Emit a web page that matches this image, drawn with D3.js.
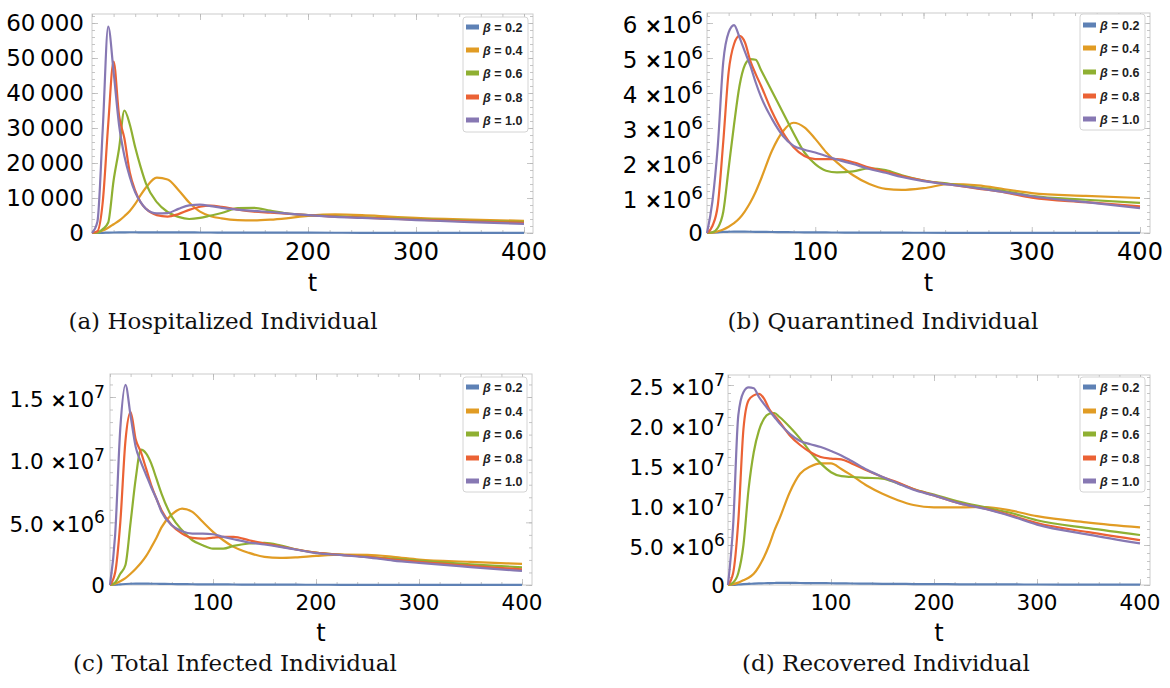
<!DOCTYPE html>
<html>
<head>
<meta charset="utf-8">
<script src="https://cdn.jsdelivr.net/npm/d3@7"></script>
<style>
  body { margin: 0; background: #fff; }
  svg { display: block; }
  .lbl { font-family: "DejaVu Sans", sans-serif; fill: #000; }
  .cap { font-family: "DejaVu Serif", serif; fill: #111; }
  .leg { font-family: "Liberation Sans", Arial, sans-serif; font-weight: bold; fill: #222; }
</style>
</head>
<body>
<div id="chart"></div>
<script>
// time points (days) shared by every series
var tDays = [0, 5, 10, 15, 20, 25, 30, 35, 40, 45, 50, 60, 70, 80, 90, 100, 110, 120, 135, 150, 165, 180, 200, 225, 250, 275, 300, 350, 400];

var betaLabels = ["0.2", "0.4", "0.6", "0.8", "1.0"];
var colors = ["#5E81B5", "#E19C24", "#8FB032", "#EB6235", "#8778B3"];

// (a) hospitalized individuals, one row per beta
var hospitalized = [
    [0, 20, 60, 110, 150, 180, 200, 210, 210, 205, 200, 190, 180, 170, 160, 150, 140, 130, 120, 110, 100, 90, 80, 70, 60, 55, 50, 40, 30],
    [0, 200, 700, 1500, 2500, 3500, 4800, 6300, 8300, 10800, 13000, 15800, 15300, 12300, 8700, 6100, 4800, 4200, 3700, 3600, 3800, 4200, 4900, 5300, 5100, 4700, 4300, 3800, 3500],
    [0, 100, 1100, 3000, 15000, 24000, 35000, 31000, 24500, 18900, 14100, 8800, 6000, 4600, 4000, 4300, 5000, 5700, 7100, 7200, 6400, 5600, 5100, 4800, 4500, 4200, 4000, 3500, 3200],
    [0, 500, 9000, 31000, 49000, 33700, 27000, 17300, 12100, 8800, 6900, 5100, 4700, 5400, 6600, 7500, 7800, 7500, 6700, 6100, 5800, 5500, 5100, 4700, 4400, 4100, 3800, 3300, 2900],
    [0, 3200, 30000, 59000, 46000, 31000, 22000, 16000, 11600, 8800, 6900, 5600, 5700, 6900, 7900, 8100, 7700, 7200, 6700, 6300, 6000, 5600, 5100, 4600, 4300, 4000, 3700, 3100, 2600]
];

// (b) quarantined individuals, millions
var quarantined = [
    [0, 0.01, 0.02, 0.03, 0.035, 0.038, 0.038, 0.037, 0.035, 0.033, 0.031, 0.028, 0.025, 0.022, 0.02, 0.018, 0.016, 0.014, 0.012, 0.01, 0.009, 0.008, 0.007, 0.006, 0.005, 0.004, 0.004, 0.003, 0.002],
    [0, 0.01, 0.05, 0.1, 0.18, 0.28, 0.42, 0.62, 0.87, 1.18, 1.55, 2.35, 2.9, 3.15, 3.02, 2.69, 2.31, 2.02, 1.65, 1.4, 1.26, 1.23, 1.28, 1.4, 1.36, 1.25, 1.14, 1.06, 1.0],
    [0, 0.02, 0.15, 0.6, 1.85, 3.1, 4.2, 4.8, 4.97, 4.95, 4.65, 4.05, 3.45, 2.85, 2.3, 1.97, 1.78, 1.73, 1.76, 1.85, 1.8, 1.65, 1.5, 1.4, 1.3, 1.2, 1.06, 0.95, 0.86],
    [0, 0.2, 0.8, 2.6, 4.6, 5.4, 5.63, 5.45, 4.92, 4.54, 4.2, 3.47, 2.88, 2.45, 2.2, 2.11, 2.11, 2.11, 2.02, 1.87, 1.75, 1.63, 1.5, 1.38, 1.27, 1.16, 1.01, 0.88, 0.76],
    [0, 0.9, 2.5, 4.88, 5.73, 5.94, 5.59, 5.18, 4.78, 4.3, 3.88, 3.26, 2.78, 2.49, 2.38, 2.3, 2.2, 2.1, 1.97, 1.83, 1.72, 1.6, 1.48, 1.38, 1.28, 1.17, 1.05, 0.88, 0.71]
];

// (c) total infected individuals, millions
var infected = [
    [0, 0.02, 0.05, 0.08, 0.1, 0.11, 0.11, 0.11, 0.1, 0.1, 0.09, 0.08, 0.07, 0.06, 0.055, 0.05, 0.045, 0.04, 0.035, 0.03, 0.027, 0.024, 0.02, 0.017, 0.015, 0.012, 0.01, 0.008, 0.006],
    [0, 0.1, 0.3, 0.55, 0.9, 1.3, 1.75, 2.3, 3.0, 3.75, 4.6, 5.63, 6.1, 5.84, 5.04, 4.24, 3.57, 3.04, 2.56, 2.24, 2.16, 2.2, 2.32, 2.42, 2.4, 2.25, 2.03, 1.85, 1.68],
    [0, 0.2, 0.9, 1.6, 5.0, 8.5, 10.8, 10.5, 9.7, 8.5, 7.3, 5.44, 4.37, 3.57, 3.17, 2.9, 2.9, 3.12, 3.31, 3.36, 3.17, 2.85, 2.58, 2.4, 2.25, 2.1, 1.95, 1.65, 1.41],
    [0, 1.0, 5.0, 11.5, 13.8, 11.6, 10.6, 9.3, 7.97, 6.9, 5.97, 4.77, 4.1, 3.76, 3.7, 3.78, 3.84, 3.84, 3.57, 3.31, 3.08, 2.85, 2.58, 2.4, 2.24, 2.03, 1.84, 1.52, 1.25],
    [0, 4.0, 12.5, 15.97, 13.5, 11.0, 9.8, 8.8, 7.8, 6.9, 5.84, 4.77, 4.29, 4.1, 4.1, 4.05, 3.84, 3.65, 3.39, 3.23, 3.04, 2.83, 2.55, 2.38, 2.2, 1.95, 1.76, 1.43, 1.12]
];

// (d) recovered individuals, millions
var recovered = [
    [0, 0.02, 0.06, 0.1, 0.14, 0.17, 0.2, 0.22, 0.24, 0.25, 0.26, 0.26, 0.25, 0.24, 0.23, 0.22, 0.2, 0.19, 0.17, 0.15, 0.14, 0.12, 0.11, 0.09, 0.08, 0.07, 0.06, 0.05, 0.04],
    [0, 0.1, 0.3, 0.6, 0.9, 1.4, 2.3, 3.5, 5.0, 6.8, 8.3, 11.6, 13.9, 14.8, 15.2, 15.2, 14.5, 13.7, 12.4, 11.4, 10.6, 10.0, 9.7, 9.7, 9.75, 9.3, 8.6, 7.8, 7.2],
    [0, 0.3, 1.5, 5.0, 12.0, 16.6, 19.3, 20.8, 21.4, 21.5, 21.0, 19.75, 18.3, 16.6, 15.2, 14.1, 13.6, 13.5, 13.4, 13.3, 12.7, 12.0, 11.3, 10.4, 9.7, 9.0, 8.1, 7.1, 6.25],
    [0, 1.5, 8.0, 19.5, 23.1, 23.7, 23.9, 23.3, 22.0, 21.2, 20.4, 18.7, 17.5, 16.6, 16.0, 15.8, 15.7, 15.2, 14.3, 13.5, 12.8, 12.0, 11.2, 10.2, 9.55, 8.7, 7.75, 6.6, 5.6],
    [0, 7.5, 21.2, 24.1, 24.7, 24.6, 23.5, 22.6, 21.8, 21.0, 20.2, 18.9, 18.0, 17.6, 17.25, 16.75, 16.2, 15.5, 14.4, 13.5, 12.7, 11.9, 11.2, 10.2, 9.5, 8.6, 7.55, 6.3, 5.2]
];

// tick values
var xTicks = [100, 200, 300, 400];
var yTicksHosp = [0, 10000, 20000, 30000, 40000, 50000, 60000];
var yTicksQuar = [0, 1, 2, 3, 4, 5, 6];      // millions
var yTicksInf = [0, 5, 10, 15];               // millions
var yTicksRec = [0, 5, 10, 15, 20, 25];       // millions

var captions = ["(a) Hospitalized Individual", "(b) Quarantined Individual",
                "(c) Total Infected Individual", "(d) Recovered Individual"];

var width = 1170, height = 688;

var svg = d3.select("#chart").append("svg")
    .attr("width", width)
    .attr("height", height);

svg.append("rect").attr("width", width).attr("height", height).attr("fill", "#fff");

// label helpers
function plainLabel(v) {
    if (v === 0) return { main: "0" };
    return { main: d3.format(",")(v).replace(",", "\u2009") };
}
function sciLabel(digits) {
    return function(v) {
        if (v === 0) return { main: "0" };
        var val = v * 1e6;
        var e = Math.floor(Math.log10(val) + 1e-9);
        var m = val / Math.pow(10, e);
        return { main: m.toFixed(digits), sup: String(e) };
    };
}

var panels = [
    { data: hospitalized, yTicks: yTicksHosp, yMinor: 2000, fmt: plainLabel,
      frame: { l: 92, t: 14, r: 533, b: 233 }, x400: 524, yRef: [60000, 23],
      xFont: 24, yFont: 23, capX: 223, capY: 329, tY: 291, yGap: 8,
      legend: { x: 463, y: 17, w: 65, h: 115, rows: [27, 50, 73, 97, 120] } },
    { data: quarantined, yTicks: yTicksQuar, yMinor: 0.2, fmt: sciLabel(0),
      frame: { l: 707, t: 13, r: 1150, b: 233 }, x400: 1140, yRef: [6, 23],
      xFont: 24, yFont: 23, capX: 883, capY: 329, tY: 291, yGap: 4,
      legend: { x: 1080, y: 14, w: 65, h: 116, rows: [25, 48, 72, 96, 119] } },
    { data: infected, yTicks: yTicksInf, yMinor: 1, fmt: sciLabel(1),
      frame: { l: 110, t: 374, r: 532, b: 585 }, x400: 522, yRef: [15, 397],
      xFont: 21.5, yFont: 21.5, capX: 235, capY: 671, tY: 641, yGap: 5,
      legend: { x: 463, y: 377, w: 64, h: 115, rows: [387, 411, 434, 458, 481] } },
    { data: recovered, yTicks: yTicksRec, yMinor: 1, fmt: sciLabel(1),
      frame: { l: 728, t: 375, r: 1150, b: 585 }, x400: 1140, yRef: [25, 385],
      xFont: 21.5, yFont: 21.5, capX: 886, capY: 671, tY: 641, yGap: 3,
      legend: { x: 1080, y: 377, w: 65, h: 115, rows: [387, 411, 434, 458, 481] } }
];

panels.forEach(function(p, pi) {
    var f = p.frame;
    var g = svg.append("g");

    var x = d3.scaleLinear().domain([0, 400]).range([f.l, p.x400]);
    var y = d3.scaleLinear().domain([0, p.yRef[0]]).range([f.b, p.yRef[1]]);
    var yTop = y.invert(f.t);

    // frame
    g.append("rect")
        .attr("x", f.l).attr("y", f.t)
        .attr("width", f.r - f.l).attr("height", f.b - f.t)
        .attr("fill", "none").attr("stroke", "#cccccc").attr("stroke-width", 1);

    // ticks (inside the frame, all four sides)
    var minorX = d3.range(0, 401, 20);
    var minorY = d3.range(0, yTop, p.yMinor);
    var tickCol = "#b8b8b8";
    function tickAxis(axisFn, scale, vals, size, tr) {
        var a = axisFn(scale).tickValues(vals).tickSize(-size).tickFormat("");
        var ag = g.append("g").attr("transform", tr).call(a);
        ag.select(".domain").remove();
        ag.selectAll("line").attr("stroke", tickCol).attr("stroke-width", 0.8);
    }
    tickAxis(d3.axisBottom, x, minorX, 3, "translate(0," + f.b + ")");
    tickAxis(d3.axisBottom, x, xTicks, 6, "translate(0," + f.b + ")");
    tickAxis(d3.axisTop, x, minorX, 3, "translate(0," + f.t + ")");
    tickAxis(d3.axisTop, x, xTicks, 6, "translate(0," + f.t + ")");
    tickAxis(d3.axisLeft, y, minorY, 3, "translate(" + f.l + ",0)");
    tickAxis(d3.axisLeft, y, p.yTicks, 6, "translate(" + f.l + ",0)");
    tickAxis(d3.axisRight, y, minorY, 3, "translate(" + f.r + ",0)");
    tickAxis(d3.axisRight, y, p.yTicks, 6, "translate(" + f.r + ",0)");

    // x tick labels
    g.selectAll(".xl").data(xTicks).enter().append("text")
        .attr("class", "lbl")
        .attr("x", function(d) { return x(d); })
        .attr("y", f.b + (pi < 2 ? 27 : 25))
        .attr("text-anchor", "middle")
        .attr("font-size", p.xFont)
        .text(function(d) { return d; });

    // y tick labels
    p.yTicks.forEach(function(v) {
        var lab = p.fmt(v);
        var txt = g.append("text")
            .attr("class", "lbl")
            .attr("x", f.l - p.yGap)
            .attr("y", y(v) + (lab.sup ? 2 : 0))
            .attr("dy", "0.36em")
            .attr("text-anchor", "end")
            .attr("font-size", p.yFont);
        txt.append("tspan").text(lab.main + " ");
        if (lab.sup) {
            txt.append("tspan").attr("font-weight", "bold").attr("font-size", p.yFont * 0.9).text("\u00d7");
            txt.append("tspan").text("10");
            txt.append("tspan")
                .attr("dy", "-0.5em")
                .attr("font-size", p.yFont * 0.8)
                .text(lab.sup);
        }
    });

    // axis title
    g.append("text")
        .attr("class", "lbl")
        .attr("x", (f.l + f.r) / 2)
        .attr("y", p.tY)
        .attr("text-anchor", "middle")
        .attr("font-size", 24)
        .text("t");

    // curves
    var line = d3.line()
        .x(function(d, i) { return x(tDays[i]); })
        .y(function(d) { return y(d); })
        .curve(d3.curveMonotoneX);

    g.selectAll(".series").data(p.data).enter().append("path")
        .attr("d", line)
        .attr("fill", "none")
        .attr("stroke", function(d, i) { return colors[i]; })
        .attr("stroke-width", 2.2)
        .attr("stroke-linejoin", "round");

    // legend
    var L = p.legend;
    g.append("rect")
        .attr("x", L.x).attr("y", L.y).attr("width", L.w).attr("height", L.h)
        .attr("rx", 3)
        .attr("fill", "#fff").attr("stroke", "#d4d4d4");
    L.rows.forEach(function(ry, i) {
        g.append("rect")
            .attr("x", L.x + 3).attr("y", ry - 2.5)
            .attr("width", 13).attr("height", 5)
            .attr("fill", colors[i]);
        var t = g.append("text")
            .attr("class", "leg")
            .attr("x", L.x + 20).attr("y", ry)
            .attr("dy", "0.36em")
            .attr("font-size", 12.5);
        t.append("tspan").attr("font-style", "italic").text("\u03b2");
        t.append("tspan").text(" = " + betaLabels[i]);
    });

    // caption
    g.append("text")
        .attr("class", "cap")
        .attr("x", p.capX)
        .attr("y", p.capY)
        .attr("text-anchor", "middle")
        .attr("font-size", 23)
        .text(captions[pi]);
});
</script>
</body>
</html>
